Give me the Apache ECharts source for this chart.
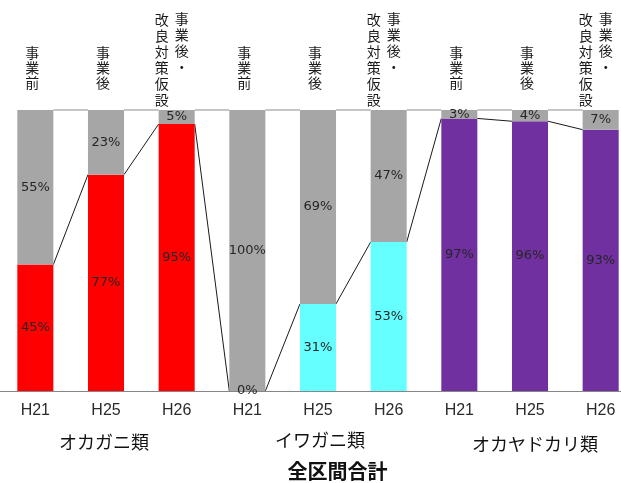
<!DOCTYPE html>
<html>
<head>
<meta charset="utf-8">
<script src="https://cdn.jsdelivr.net/npm/echarts@6/dist/echarts.min.js"></script>
<style>
  html, body { margin: 0; padding: 0; background: #fff; }
  #chart { width: 621px; height: 483px; }
</style>
</head>
<body>
<div id="chart"></div>
<script>
// Share of each survey period, per crab group (全区間合計)
const categories = ['H21', 'H25', 'H26', 'H21', 'H25', 'H26', 'H21', 'H25', 'H26'];
const stageLabels = [
  ['事業前'], ['事業後'], ['事業後・', '改良対策仮設'],
  ['事業前'], ['事業後'], ['事業後・', '改良対策仮設'],
  ['事業前'], ['事業後'], ['事業後・', '改良対策仮設']
];
const groupNames = ['オカガニ類', 'イワガニ類', 'オカヤドカリ類'];
const totalTitle = '全区間合計';
const shareLower = [45, 77, 95, 0, 31, 53, 97, 96, 93];
const shareUpper = [55, 23, 5, 100, 69, 47, 3, 4, 7];
const groupColors = ['#FF0000', '#66FFFF', '#7030A0'];
const upperColor = '#A6A6A6';

const BAR_RATIO = 0.51;
const chart = echarts.init(document.getElementById('chart'), null, { renderer: 'canvas' });

const totals = shareLower.map((v, i) => v + shareUpper[i]);
const lowerLinks = shareLower.slice(0, -1).map((v, i) => [i, v, shareLower[i + 1]]);
const upperLinks = totals.slice(0, -1).map((v, i) => [i, v, totals[i + 1]]);

// Connector lines between neighbouring bar segments
function linkRenderer(color) {
  return function (params, api) {
    const i = api.value(0);
    const a = api.coord([i, api.value(1)]);
    const b = api.coord([i + 1, api.value(2)]);
    const half = api.size([1, 0])[0] * BAR_RATIO / 2;
    return {
      type: 'line',
      shape: { x1: a[0] + half, y1: a[1], x2: b[0] - half, y2: b[1] },
      style: { stroke: color, lineWidth: 1 }
    };
  };
}

const pctLabel = {
  show: true,
  position: 'inside',
  formatter: p => p.value + '%',
  color: '#262626',
  fontFamily: 'DejaVu Sans',
  fontSize: 13
};

chart.setOption({
  animation: false,
  grid: { left: 0, right: -15, top: 110, bottom: 92, outerBoundsMode: 'none' },
  xAxis: {
    type: 'category', data: categories,
    axisLine: { lineStyle: { color: '#868686', width: 1 } },
    axisTick: { show: false },
    axisLabel: {
      margin: 12, color: '#2b2b2b',
      fontFamily: "'Liberation Sans Narrow', sans-serif",
      fontSize: 16
    }
  },
  yAxis: { type: 'value', min: 0, max: 100, show: false },
  series: [
    {
      type: 'custom', z: 1, silent: true,
      renderItem: linkRenderer('#8c8c8c'), data: upperLinks
    },
    {
      type: 'custom', z: 1, silent: true,
      renderItem: linkRenderer('#1a1a1a'), data: lowerLinks
    },
    {
      type: 'bar', stack: 'share', barWidth: (BAR_RATIO * 100) + '%', z: 2,
      data: shareLower.map((v, i) => ({
        value: v, itemStyle: { color: groupColors[Math.floor(i / 3)] }
      })),
      label: pctLabel
    },
    {
      type: 'bar', stack: 'share', barWidth: (BAR_RATIO * 100) + '%', z: 2,
      itemStyle: { color: upperColor },
      data: shareUpper,
      label: pctLabel
    }
  ]
});

// Vertical stage captions above bars, group names and overall caption below
const cjkFont = "'Noto Sans CJK JP', sans-serif";
const graphics = [];
function verticalText(x, y, str, lineHeight) {
  return {
    type: 'text', x: x, y: y,
    style: {
      text: str.split('').join('\n'), fill: '#1a1a1a',
      fontSize: 14, fontFamily: cjkFont, lineHeight: lineHeight,
      align: 'center', verticalAlign: 'top'
    }
  };
}
stageLabels.forEach((cols, i) => {
  const cx = chart.convertToPixel({ xAxisIndex: 0 }, i);
  if (cols.length === 1) {
    graphics.push(verticalText(cx - 3, 45, cols[0], 15));
  } else {
    graphics.push(verticalText(cx + 5, 11, cols[0], 16));
    graphics.push(verticalText(cx - 15, 12, cols[1], 16));
  }
});

const groupYs = [442.5, 440.5, 444.5];
const groupShift = [-2, 2, 5];
groupNames.forEach((name, g) => {
  const cx = chart.convertToPixel({ xAxisIndex: 0 }, g * 3 + 1);
  graphics.push({
    type: 'text', x: cx + groupShift[g], y: groupYs[g],
    style: {
      text: name, fill: '#111', fontSize: 18, fontFamily: cjkFont,
      align: 'center', verticalAlign: 'middle'
    }
  });
});

const midX = chart.convertToPixel({ xAxisIndex: 0 }, 4);
graphics.push({
  type: 'text', x: midX + 19.5, y: 471,
  style: {
    text: totalTitle, fill: '#111', fontSize: 20, fontWeight: 'bold',
    fontFamily: cjkFont, align: 'center', verticalAlign: 'middle'
  }
});

chart.setOption({ graphic: graphics });
</script>
</body>
</html>
